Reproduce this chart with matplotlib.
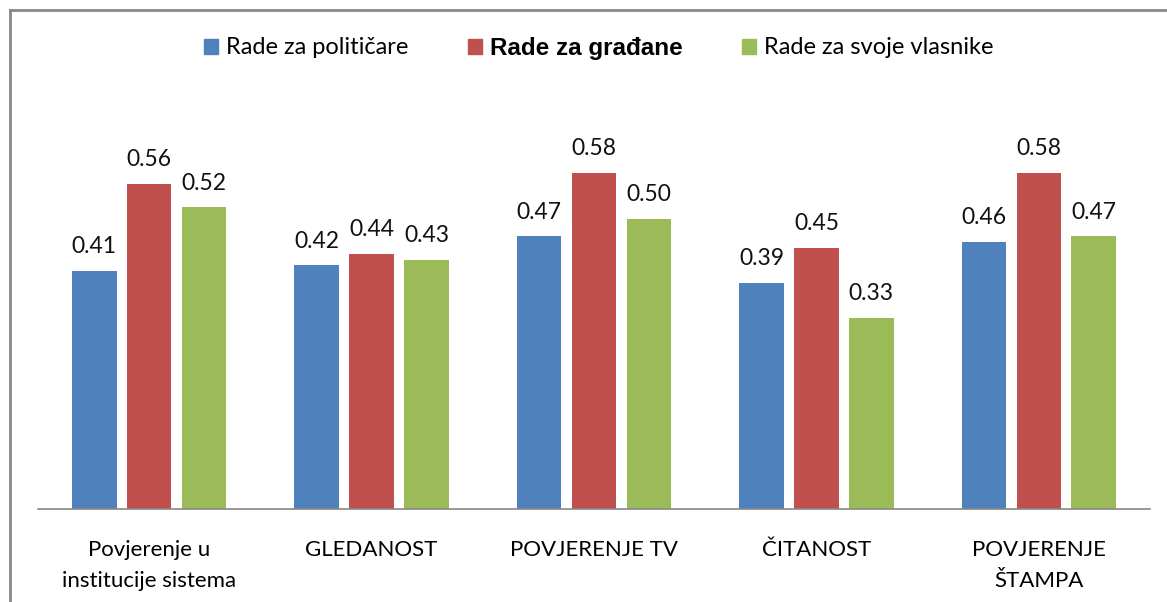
import matplotlib.pyplot as plt
import numpy as np
from matplotlib.lines import Line2D
from matplotlib.patches import Patch

categories = ['Povjerenje u\ninstitucije sistema', 'GLEDANOST', 'POVJERENJE TV',
              'ČITANOST', 'POVJERENJE\nŠTAMPA']
series_names = ['Rade za političare', 'Rade za građane', 'Rade za svoje vlasnike']
politicari = [0.41, 0.42, 0.47, 0.39, 0.46]
gradjani = [0.56, 0.44, 0.58, 0.45, 0.58]
vlasnici = [0.52, 0.43, 0.50, 0.33, 0.47]
colors = ['#4F81BD', '#C0504D', '#9BBB59']

plt.rcParams['font.family'] = ['Lato', 'DejaVu Sans']

W, H = 1167, 602
fig = plt.figure(figsize=(W / 100, H / 100), dpi=100)
ax = fig.add_axes([38 / W, (H - 509) / H, (1150 - 38) / W, (509 - 103) / H])

x = np.arange(len(categories))
width = 0.2
step = 0.247
for i, (vals, c) in enumerate(zip([politicari, gradjani, vlasnici], colors)):
    bars = ax.bar(x + (i - 1) * step, vals, width, color=c)
    for b, v in zip(bars, vals):
        ax.annotate(f'{v:.2f}', (b.get_x() + b.get_width() / 2, v),
                    xytext=(0, 10), textcoords='offset points',
                    ha='center', va='bottom', fontsize=16.5, color='#111111')

ax.set_xlim(-0.5, len(categories) - 0.5)
ax.set_ylim(0, 0.7)
ax.set_yticks([])
ax.set_xticks(x)
ax.set_xticklabels(categories, fontsize=16, linespacing=1.7)
ax.tick_params(axis='x', length=0, pad=22)
for s in ['top', 'right', 'left']:
    ax.spines[s].set_visible(False)
ax.spines['bottom'].set_color('#888888')
ax.spines['bottom'].set_linewidth(1.2)

handles = [Patch(color=c) for c in colors]
leg = fig.legend(handles, series_names, loc='center', bbox_to_anchor=(599 / W, 1 - 48 / H),
                 ncol=3, frameon=False, fontsize=17, handlelength=0.6, handleheight=0.6,
                 handletextpad=0.35, columnspacing=2.5)
mid = leg.get_texts()[1]
mid.set_fontfamily(['Liberation Sans', 'DejaVu Sans'])
mid.set_fontsize(17.5)
mid.set_fontweight('bold')

# outer frame (left and top)
fig.add_artist(Line2D([10 / W, 10 / W], [0, 1 - 10 / H], transform=fig.transFigure,
                      color='#888888', lw=2))
fig.add_artist(Line2D([10 / W, 1], [1 - 10 / H, 1 - 10 / H], transform=fig.transFigure,
                      color='#888888', lw=2))

fig.savefig('out.png', dpi=100)
